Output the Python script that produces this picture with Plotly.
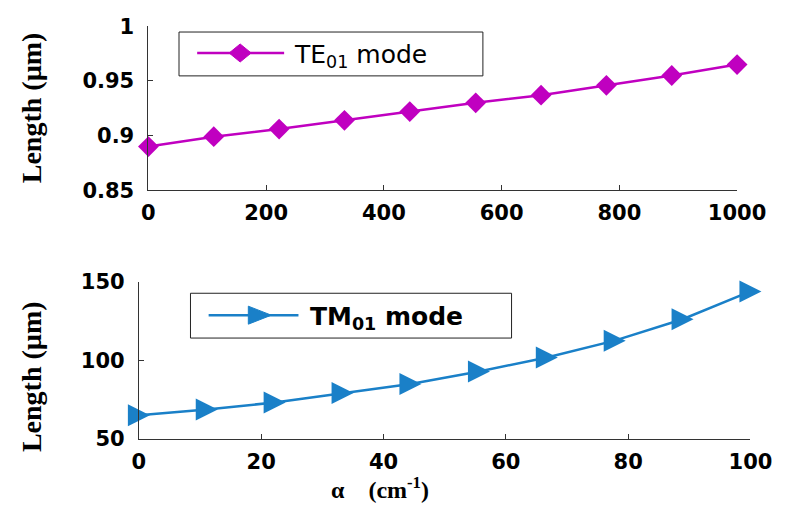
import plotly.graph_objects as go

W, H = 811, 515

# TE01 mode: length (µm) versus absorption coefficient alpha (cm^-1)
alpha_te = [0, 111, 222, 333, 444, 556, 667, 778, 889, 1000]
length_te = [0.890, 0.899, 0.906, 0.914, 0.922, 0.930, 0.937, 0.946, 0.955, 0.965]

# TM01 mode
alpha_tm = [0, 11.1, 22.2, 33.3, 44.4, 55.6, 66.7, 77.8, 88.9, 100]
length_tm = [65.2, 68.8, 73.3, 79.3, 85.0, 93.0, 101.9, 112.6, 126.2, 143.9]

te_xticks = [0, 200, 400, 600, 800, 1000]
te_yticks = [0.85, 0.9, 0.95, 1]
te_ytext = ["0.85", "0.9", "0.95", "1"]
tm_xticks = [0, 20, 40, 60, 80, 100]
tm_yticks = [50, 100, 150]

MAGENTA = "#c000c0"
BLUE = "#1a80c8"
SANS = "DejaVu Sans, Arial, sans-serif"
SERIF = "Liberation Serif, Times New Roman, serif"


def px(x):
    return x / W


def py(y):
    return 1 - y / H


axis_style = dict(
    showline=True, linecolor="#333", linewidth=1,
    ticks="inside", ticklen=5, tickcolor="#333", tickwidth=1,
    showgrid=False, zeroline=False, mirror=False,
    tickfont=dict(family=SANS, size=21, color="black", weight="bold"),
)

fig = go.Figure()

fig.add_trace(go.Scatter(
    x=alpha_te, y=length_te, mode="lines+markers", name="TE01 mode",
    line=dict(color=MAGENTA, width=2.5),
    marker=dict(symbol="diamond", size=16, color=MAGENTA),
    xaxis="x", yaxis="y", cliponaxis=False, showlegend=False,
))

fig.add_trace(go.Scatter(
    x=alpha_tm, y=length_tm, mode="lines+markers", name="TM01 mode",
    line=dict(color=BLUE, width=2.5),
    marker=dict(symbol="arrow-down", angle=270, standoff=11, size=22, color=BLUE),
    xaxis="x2", yaxis="y2", cliponaxis=False, showlegend=False,
))

fig.update_layout(
    width=W, height=H,
    margin=dict(l=0, r=0, t=0, b=0),
    paper_bgcolor="white", plot_bgcolor="white",
    showlegend=False,
    xaxis=dict(axis_style, domain=[px(148), px(764)], range=[0, 1000],
               tickvals=te_xticks, anchor="y", ticklabelstandoff=4),
    yaxis=dict(axis_style, domain=[py(187), py(15)], range=[0.85, 1],
               tickvals=te_yticks, ticktext=te_ytext, anchor="x", ticklabelstandoff=9),
    xaxis2=dict(axis_style, domain=[px(138), px(778)], range=[0, 100],
                tickvals=tm_xticks, anchor="y2", ticklabelstandoff=4),
    yaxis2=dict(axis_style, domain=[py(448), py(283)], range=[50, 150],
                tickvals=tm_yticks, anchor="x2", ticklabelstandoff=9),
)

shapes = []
annotations = []


def legend_box(x0, y0, x1, y1):
    shapes.append(dict(type="rect", xref="paper", yref="paper",
                       x0=px(x0), x1=px(x1), y0=py(y1), y1=py(y0),
                       line=dict(color="#222", width=1), fillcolor="white", layer="above"))


def legend_line(x0, x1, y, color):
    shapes.append(dict(type="line", xref="paper", yref="paper",
                       x0=px(x0), x1=px(x1), y0=py(y), y1=py(y),
                       line=dict(color=color, width=2.5), layer="above"))


def legend_marker(cx, cy, path, color):
    shapes.append(dict(type="path", xref="paper", yref="paper",
                       xsizemode="pixel", ysizemode="pixel",
                       xanchor=px(cx), yanchor=py(cy), path=path,
                       fillcolor=color, line=dict(color=color, width=1), layer="above"))


# TE01 legend
legend_box(180, 21, 498, 67)
legend_line(199, 290, 43, MAGENTA)
legend_marker(244, 43, "M -11,0 L 0,9 L 11,0 L 0,-9 Z", MAGENTA)
annotations.append(dict(text="TE<sub>01</sub> mode", xref="paper", yref="paper",
                        x=px(298), y=py(46), xanchor="left", yanchor="middle",
                        showarrow=False, font=dict(family=SANS, size=25, color="black")))

# TM01 legend
legend_box(192, 295, 528, 342)
legend_line(211, 305, 318, BLUE)
legend_marker(263, 318, "M -10,9 L 13,0 L -10,-9 Z", BLUE)
annotations.append(dict(text="TM<sub>01</sub> mode", xref="paper", yref="paper",
                        x=px(315), y=py(321), xanchor="left", yanchor="middle",
                        showarrow=False,
                        font=dict(family=SANS, size=25, color="black", weight="bold")))

# Axis titles
for yc in (100, 382):
    annotations.append(dict(text="Length (µm)", xref="paper", yref="paper",
                            x=px(25), y=py(yc), textangle=-90,
                            xanchor="center", yanchor="middle", showarrow=False,
                            font=dict(family=SERIF, size=28, color="black", weight="bold")))
annotations.append(dict(text="α    (cm<sup>-1</sup>)", xref="paper", yref="paper",
                        x=px(390), y=py(499), xanchor="center", yanchor="middle",
                        showarrow=False,
                        font=dict(family=SERIF, size=24, color="black", weight="bold")))

fig.update_layout(shapes=shapes, annotations=annotations)
fig.write_html("out.html")
